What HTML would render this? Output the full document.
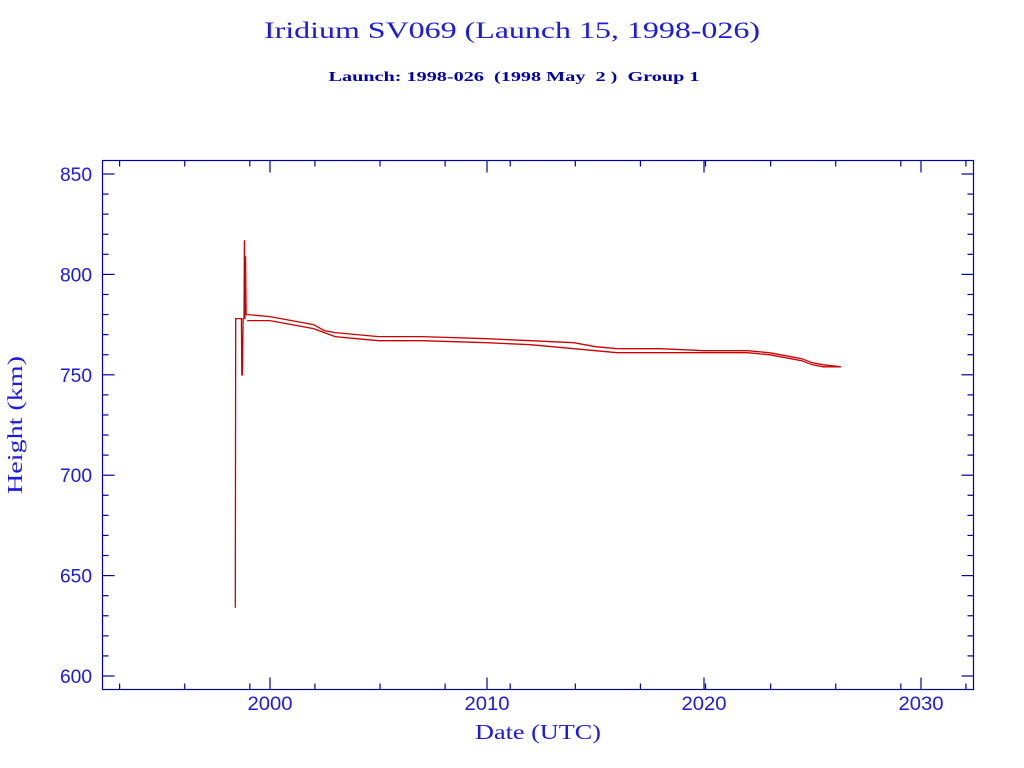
<!DOCTYPE html>
<html><head><meta charset="utf-8"><style>
html,body{margin:0;padding:0;background:#fff;width:1024px;height:768px;overflow:hidden}
svg{display:block}
text{font-family:"Liberation Serif","DejaVu Serif",serif}
.pre{white-space:pre}
</style></head><body>
<svg id="chart" width="1024" height="768" viewBox="0 0 1024 768" xml:space="preserve">
<text x="512" y="38" text-anchor="middle" font-size="23" fill="#1a1ae0" textLength="496" lengthAdjust="spacingAndGlyphs">Iridium SV069 (Launch 15, 1998-026)</text>
<text class="pre" x="514" y="81" text-anchor="middle" font-size="14" font-weight="bold" fill="#0000b0" textLength="371" lengthAdjust="spacingAndGlyphs">Launch: 1998-026  (1998 May  2 )  Group 1</text>
<rect x="102.5" y="160.5" width="871" height="529" fill="none" stroke="#0000a0" stroke-width="1.2"/>
<g id="ticks"></g>
<g id="series"></g>
<text x="538" y="739" text-anchor="middle" font-size="21" fill="#1a1ae0" textLength="126" lengthAdjust="spacingAndGlyphs">Date (UTC)</text>
<text x="0" y="0" transform="translate(22,425) rotate(-90)" text-anchor="middle" font-size="21" fill="#1a1ae0" textLength="138" lengthAdjust="spacingAndGlyphs">Height (km)</text>
</svg>
<script>
const yTicks = [600, 650, 700, 750, 800, 850];
const xTicks = [2000, 2010, 2020, 2030];
const launchDates = [1998.4, 1998.42, 1998.68, 1998.7, 1998.73, 1998.76, 1998.8, 1998.82, 1998.85, 1998.87, 1998.9, 1998.95];
const launchHeights = [634, 778, 778, 750, 750, 778, 778, 817, 778, 809, 780, 780];
const upperDates = [1998.95, 2000, 2001, 2002, 2002.5, 2003, 2004, 2005, 2007, 2010, 2012, 2014, 2015, 2016, 2018, 2020, 2022, 2023, 2024, 2024.5, 2025, 2025.5, 2026.3];
const upperHeights = [780, 779, 777, 775, 772, 771, 770, 769, 769, 768, 767, 766, 764, 763, 763, 762, 762, 761, 759, 758, 756, 755, 754];
const lowerDates = [1998.95, 2000, 2001, 2002, 2002.5, 2003, 2004, 2005, 2007, 2010, 2012, 2014, 2015, 2016, 2018, 2020, 2022, 2023, 2024, 2024.5, 2025, 2025.5, 2026.3];
const lowerHeights = [777, 777, 775, 773, 771, 769, 768, 767, 767, 766, 765, 763, 762, 761, 761, 761, 761, 760, 758, 757, 755, 754, 754];

const NS = "http://www.w3.org/2000/svg";
const L = 102.5, R = 973.5, T = 160.5, B = 689.5;
function xs(d){ return 270 + (d - 2000) * 21.7; }
function ys(h){ return 174 + (850 - h) * 2.008; }
function mk(tag, attrs, parent){
  const e = document.createElementNS(NS, tag);
  for (const k in attrs) e.setAttribute(k, attrs[k]);
  parent.appendChild(e);
  return e;
}
const tg = document.getElementById('ticks');
const AX = "#0000a0";
const SANS = 'font-family:"Liberation Sans",sans-serif';
for (let h = 600; h <= 850; h += 10) {
  const y = ys(h), major = h % 50 === 0, len = major ? 12 : 6;
  const a = mk('line', {x1: L, x2: L + len, y1: y, y2: y, stroke: AX, 'stroke-width': 1.2}, tg);
  
  
  const b = mk('line', {x1: R, x2: R - len, y1: y, y2: y, stroke: AX, 'stroke-width': 1.2}, tg);
  
  
}
yTicks.forEach(v => {
  const t = mk('text', {x: 92, y: ys(v) + 7, 'text-anchor': 'end', 'font-size': 19, fill: '#1a1ae0', textLength: 32, lengthAdjust: 'spacingAndGlyphs', style: SANS}, tg);
  
  
  t.textContent = v;
});
for (let d = 1993.07; d < 2033; d += 3) {
  const x = xs(d);
  if (x < L || x > R) continue;
  const a = mk('line', {x1: x, x2: x, y1: B, y2: B - 6, stroke: AX, 'stroke-width': 1.2}, tg);
  
  
  const b = mk('line', {x1: x, x2: x, y1: T, y2: T + 6, stroke: AX, 'stroke-width': 1.2}, tg);
  
  
}
xTicks.forEach(v => {
  const x = xs(v);
  const a = mk('line', {x1: x, x2: x, y1: B, y2: B - 12, stroke: AX, 'stroke-width': 1.2}, tg);
  
  
  const b = mk('line', {x1: x, x2: x, y1: T, y2: T + 12, stroke: AX, 'stroke-width': 1.2}, tg);
  
  
  const t = mk('text', {x: x - 22.5, y: 710, 'font-size': 19, fill: '#1a1ae0', textLength: 45, lengthAdjust: 'spacingAndGlyphs', style: SANS}, tg);
  
  
  t.textContent = v;
});
const sg = document.getElementById('series');
function pts(ds, hs){ return ds.map((d, i) => xs(d).toFixed(1) + ',' + ys(hs[i]).toFixed(1)).join(' '); }
const p0 = mk('polyline', {points: pts(launchDates, launchHeights), fill: 'none', stroke: '#cc0000', 'stroke-width': 1.3}, sg);


const p1 = mk('polyline', {points: pts(upperDates, upperHeights), fill: 'none', stroke: '#cc0000', 'stroke-width': 1.3}, sg);


const p2 = mk('polyline', {points: pts(lowerDates, lowerHeights), fill: 'none', stroke: '#cc0000', 'stroke-width': 1.3}, sg);


</script>
</body></html>
